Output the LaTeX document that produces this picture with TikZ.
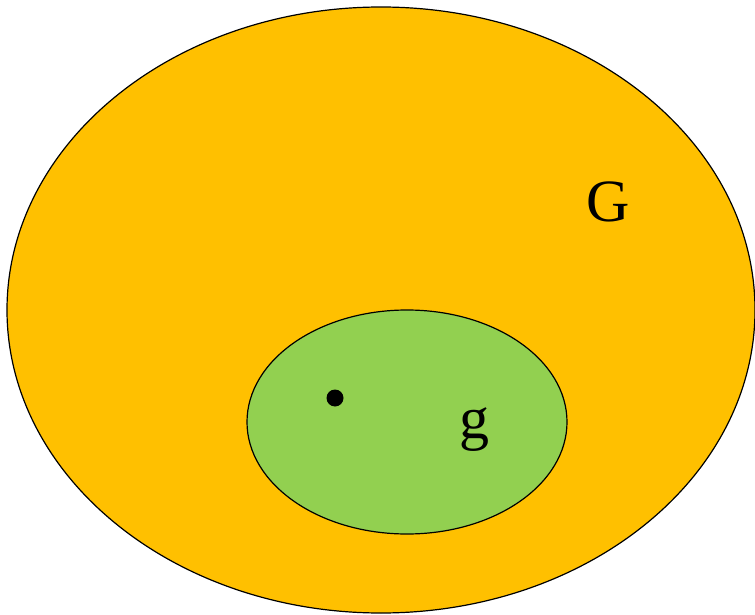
\documentclass[tikz,border=0pt]{standalone}
\usepackage{fontspec}
\setmainfont{Liberation Serif}
\definecolor{gold}{HTML}{FFC000}
\definecolor{leaf}{HTML}{92D050}
\begin{document}
\begin{tikzpicture}[x=1pt,y=-1pt,
  setshape/.style={draw=black, line width=1.2pt},
  lbl/.style={font=\fontsize{60}{62}\selectfont, inner sep=0pt}]
\useasboundingbox (0,0) rectangle (755,615);
\fill[gold, setshape] (381,310) ellipse [x radius=374, y radius=303];
\fill[leaf, setshape] (407,422) ellipse [x radius=160, y radius=112];
\fill[black] (335,398) circle [radius=8.5];
\node[lbl] (G) at (608,202) {G};
\node[lbl] (g) at (474,430) {g};
\end{tikzpicture}
\end{document}
